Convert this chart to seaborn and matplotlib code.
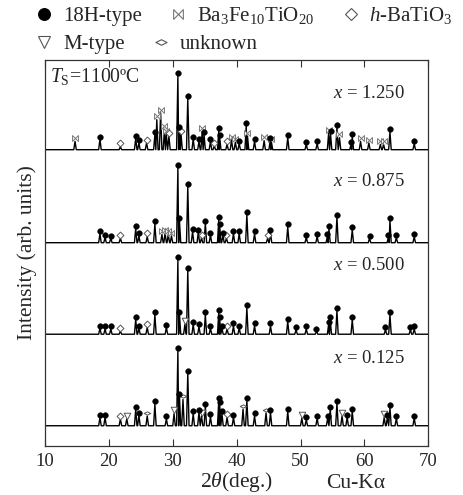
#%%
import numpy as np
import matplotlib
matplotlib.use("Agg")
import matplotlib.pyplot as plt
import seaborn as sns
from matplotlib.path import Path
from matplotlib.lines import Line2D
from matplotlib.transforms import blended_transform_factory

# peak lists: 2theta (deg), rel. intensity (%), phase
# H = 18H-type, B = Ba3Fe10TiO20, T = h-BaTiO3, M = M-type, U = unknown
pos_1250 = [14.7, 18.6, 21.8, 24.2, 24.7, 25.9, 27.2, 27.5, 28.1, 28.7, 29.0, 29.4,
            30.8, 31.05, 31.3, 32.35, 33.2, 34.1, 34.6, 34.9, 35.9, 36.5, 37.2, 37.35,
            38.5, 39.2, 39.8, 40.4, 41.5, 41.7, 42.8, 44.3, 45.25, 45.45, 48.0, 50.9,
            52.6, 54.4, 54.7, 55.7, 56.1, 57.9, 58.1, 59.4, 60.7, 62.5, 63.0, 64.0, 67.8]
int_1250 = [11, 14, 4, 15, 9, 9, 20, 40, 49, 27, 20, 18,
            99, 27, 20, 68, 14, 11, 24, 20, 11, 5, 26, 16,
            7, 13, 10, 8, 32, 18, 11, 12, 12, 10, 16, 7,
            8, 22, 21, 29, 16, 7, 17, 11, 9, 7, 7, 24, 8]
phase_1250 = ["B", "H", "T", "H", "H", "T", "H", "B", "B", "B", "B", "T",
              "H", "H", "T", "H", "H", "H", "B", "H", "H", "T", "H", "H",
              "T", "B", "B", "H", "H", "B", "H", "B", "H", "B", "H", "H",
              "H", "B", "H", "H", "B", "H", "H", "B", "B", "B", "B", "H", "H"]

pos_0875 = [18.6, 19.4, 20.3, 21.8, 24.2, 24.7, 26.0, 27.2, 28.3, 28.8, 29.3, 29.8,
            30.8, 31.05, 32.35, 33.1, 34.0, 34.5, 35.1, 35.9, 37.2, 37.35, 37.85, 38.4,
            39.5, 40.4, 41.6, 42.8, 44.85, 45.3, 48.0, 50.9, 52.6, 54.2, 54.45, 55.7,
            58.1, 60.8, 63.75, 64.0, 65.0, 67.8]
int_0875 = [12, 7, 6, 6, 19, 9, 8, 25, 11, 13, 11, 9,
            100, 29, 75, 15, 14, 6, 26, 10, 31, 22, 10, 6,
            12, 12, 37, 12, 6, 13, 21, 7, 8, 8, 19, 34,
            17, 6, 7, 30, 7, 8]
phase_0875 = ["H", "H", "H", "T", "H", "H", "T", "H", "B", "B", "B", "B",
              "H", "H", "H", "H", "H", "T", "H", "H", "H", "H", "H", "T",
              "H", "H", "H", "H", "T", "H", "H", "H", "H", "H", "H", "H",
              "H", "H", "H", "H", "H", "H"]

pos_0500 = [18.6, 19.4, 20.3, 21.8, 24.2, 24.7, 26.0, 27.2, 29.0, 30.8, 31.05, 31.9,
            32.35, 33.2, 34.1, 35.1, 35.9, 37.2, 37.35, 37.7, 38.5, 39.5, 40.4, 41.6,
            42.8, 45.3, 48.0, 49.3, 50.9, 52.5, 54.4, 54.65, 55.7, 58.1, 63.3, 64.0,
            67.2, 67.8]
int_0500 = [8, 7, 7, 4, 20, 8, 9, 26, 9, 99, 26, 13,
            85, 13, 10, 26, 8, 29, 20, 8, 7, 11, 8, 35,
            11, 11, 17, 6, 7, 4, 13, 20, 31, 19, 6, 26,
            6, 7]
phase_0500 = ["H", "H", "H", "T", "H", "H", "T", "H", "H", "H", "H", "M",
              "H", "H", "H", "H", "H", "H", "H", "H", "T", "H", "H", "H",
              "H", "H", "H", "H", "H", "H", "H", "H", "H", "H", "H", "H",
              "H", "H"]

pos_0125 = [18.6, 19.4, 21.8, 22.8, 24.2, 24.7, 26.0, 27.2, 29.0, 30.2, 30.8, 31.05,
            31.6, 32.35, 33.2, 34.1, 34.5, 35.1, 35.9, 37.2, 37.35, 37.7, 38.5, 39.5,
            41.0, 41.6, 42.8, 44.6, 45.3, 48.0, 50.2, 50.9, 52.6, 54.25, 54.65, 55.7,
            56.5, 57.3, 58.1, 63.1, 63.6, 64.0, 65.0, 67.8]
int_0125 = [11, 11, 9, 9, 22, 14, 13, 29, 9, 16, 100, 39,
            35, 70, 16, 18, 13, 25, 12, 33, 28, 16, 11, 11,
            22, 33, 13, 17, 17, 19, 10, 8, 10, 10, 22, 30,
            13, 11, 19, 11, 11, 24, 10, 10]
phase_0125 = ["H", "H", "T", "M", "H", "H", "U", "H", "H", "M", "H", "H",
              "U", "H", "H", "H", "M", "H", "H", "H", "H", "H", "T", "H",
              "U", "H", "H", "U", "H", "H", "M", "H", "H", "H", "H", "H",
              "M", "H", "H", "M", "H", "H", "H", "H"]

sample_labels = ["1.250", "0.875", "0.500", "0.125"]
phase_names = {"H": "18H-type", "B": r"Ba$_3$Fe$_{10}$TiO$_{20}$",
               "T": r"$h$-BaTiO$_3$", "M": "M-type", "U": "unknown"}

#%%
sns.set_style("ticks")
plt.rcParams["font.family"] = ["Liberation Serif", "DejaVu Serif"]
plt.rcParams["mathtext.fontset"] = "custom"
plt.rcParams["mathtext.rm"] = "Liberation Serif"
plt.rcParams["mathtext.it"] = "Liberation Serif:italic"
plt.rcParams["font.size"] = 13.5

bowtie = Path([(-1, -1), (-1, 1), (1, -1), (1, 1), (-1, -1)],
              [Path.MOVETO, Path.LINETO, Path.LINETO, Path.LINETO, Path.CLOSEPOLY])
flat_diamond = Path([(-1, 0), (0, 0.5), (1, 0), (0, -0.5), (-1, 0)],
                    [Path.MOVETO, Path.LINETO, Path.LINETO, Path.LINETO, Path.CLOSEPOLY])

marker_style = {
    "H": dict(marker="o", s=17, color="black", edgecolor="black", linewidth=0.3),
    "B": dict(marker=bowtie, s=18, facecolor="white", edgecolor="#777777", linewidth=0.7),
    "T": dict(marker="D", s=12, facecolor="white", edgecolor="#555555", linewidth=0.7),
    "M": dict(marker="v", s=22, facecolor="white", edgecolor="#555555", linewidth=0.7),
    "U": dict(marker=flat_diamond, s=22, facecolor="white", edgecolor="#555555", linewidth=0.7),
}


def spike_trace(pos, inten, w=0.2):
    # baseline with one narrow spike per listed reflection
    order = np.argsort(pos)
    p = np.asarray(pos, dtype=float)[order]
    h = np.asarray(inten, dtype=float)[order]
    xs, ys = [10.0], [0.0]
    for i in range(len(p)):
        left = w if i == 0 else min(w, (p[i] - p[i - 1]) / 2)
        right = w if i == len(p) - 1 else min(w, (p[i + 1] - p[i]) / 2)
        xs += [p[i] - left, p[i], p[i] + right]
        ys += [0.0, h[i], 0.0]
    xs.append(70.0)
    ys.append(0.0)
    return np.array(xs), np.array(ys)


fig = plt.figure(figsize=(4.64, 4.95), dpi=100)
ax = fig.add_axes([0.097, 0.099, 0.826, 0.780])

traces = [(pos_1250, int_1250, phase_1250), (pos_0875, int_0875, phase_0875),
          (pos_0500, int_0500, phase_0500), (pos_0125, int_0125, phase_0125)]
offsets = [395, 271, 149, 27]
label_y = [470, 352, 241, 117]

for (pos, inten, phase), off, lab, ly in zip(traces, offsets, sample_labels, label_y):
    xs, ys = spike_trace(pos, inten)
    sns.lineplot(x=xs, y=ys + off, sort=False, estimator=None, color="black",
                 linewidth=1.0, ax=ax)
    pos = np.asarray(pos)
    inten = np.asarray(inten)
    phase = np.asarray(phase)
    for code in ["B", "T", "M", "U", "H"]:
        sel = phase == code
        if not sel.any():
            continue
        dy = 3.5 if code == "H" else 4.5
        sns.scatterplot(x=pos[sel], y=inten[sel] + off + dy, ax=ax, zorder=3,
                        **marker_style[code])
    ax.text(66.4, ly, r"$x$ = " + lab, ha="right", va="center", fontsize=13.5)

ax.text(10.8, 492, r"$T_\mathrm{S}$=1100ºC", ha="left", va="center", fontsize=14.2)

ax.set_xlim(10, 70)
ax.set_ylim(0, 514.7)
ax.set_xticks(range(10, 71, 10))
ax.set_yticks([])
ax.tick_params(axis="x", direction="in", top=True, length=5, width=0.8,
               labelsize=13.5, pad=5, color="#333333")
for sp in ax.spines.values():
    sp.set_visible(True)
    sp.set_color("#333333")
    sp.set_linewidth(0.9)
ax.set_xlabel(r"2$\theta$(deg.)", fontsize=15.5, labelpad=0)
ax.set_ylabel("Intensity (arb. units)", fontsize=15.5, labelpad=6)
trans = blended_transform_factory(ax.transData, ax.transAxes)
ax.text(58.6, -0.098, "Cu-Kα", transform=trans, ha="center", va="center", fontsize=15.5)


def leg_handle(code, ms):
    st = marker_style[code]
    fc = st.get("facecolor", st.get("color"))
    return Line2D([], [], linestyle="none", marker=st["marker"], markersize=ms,
                  markerfacecolor=fc, markeredgecolor=st["edgecolor"],
                  markeredgewidth=0.8)


row1 = [leg_handle("H", 8.5), leg_handle("B", 7), leg_handle("T", 6.5)]
row2 = [leg_handle("M", 8), leg_handle("U", 8)]
common = dict(frameon=False, fontsize=15, handlelength=1.0, handletextpad=0.4,
              columnspacing=1.25, borderpad=0, borderaxespad=0, loc="center left")
fig.legend(row1, [phase_names[c] for c in "HBT"], ncol=3,
           bbox_to_anchor=(0.073, 0.968), **common)
fig.legend(row2, [phase_names[c] for c in "MU"], ncol=2,
           bbox_to_anchor=(0.073, 0.911), **common)

fig.savefig("out.png", dpi=100)
